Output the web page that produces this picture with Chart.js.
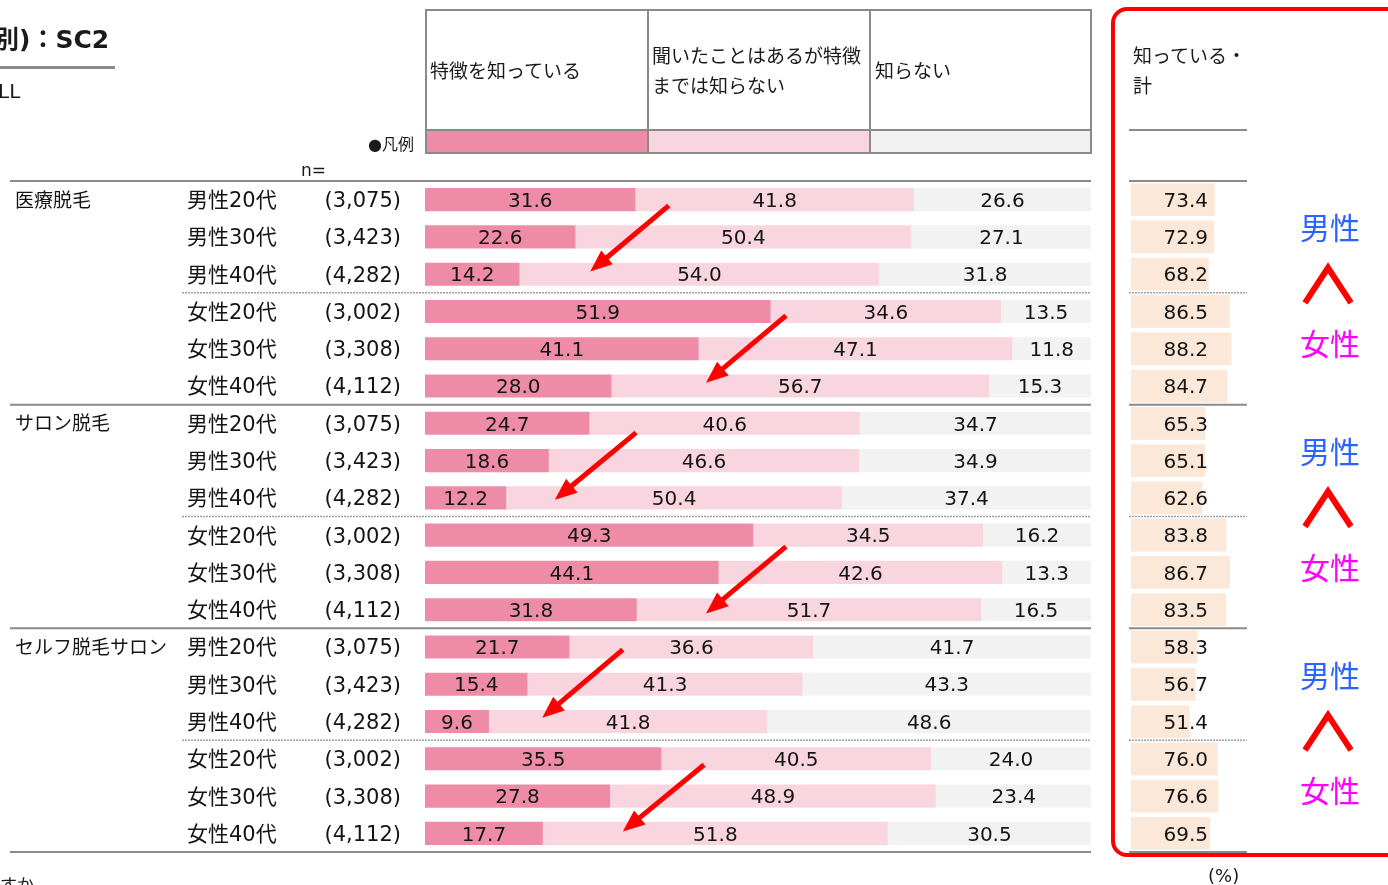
<!DOCTYPE html>
<html>
<head>
<meta charset="utf-8">
<script src="https://cdn.jsdelivr.net/npm/chart.js@4.4.0/dist/chart.umd.min.js"></script>
<style>
  body { margin: 0; background: #fff; }
  #wrap { position: relative; width: 1388px; height: 885px; overflow: hidden;
          font-family: "DejaVu Sans", "Noto Sans CJK JP", sans-serif; color: #1a1a1a; }
  canvas { position: absolute; left: 0; top: 0; }
  .t { position: absolute; white-space: nowrap; }
  .ln { position: absolute; background: #8a8a8a; }
  .hd { position: absolute; font-size: 19px; line-height: 30px; }
</style>
</head>
<body>
<div id="wrap">
  <canvas id="mainChart" width="1388" height="885"></canvas>
  <canvas id="totalChart" width="1388" height="885"></canvas>

  <!-- title block -->
  <div class="t" style="left:-6px;top:19px;font-size:25px;font-weight:bold;">別)：SC2</div>
  <div class="ln" style="left:0;top:66px;width:115px;height:3px;"></div>
  <div class="t" style="left:-2px;top:79px;font-size:20px;">LL</div>

  <!-- legend table -->
  <div style="position:absolute;left:425px;top:9px;width:667px;height:145px;border:2px solid #8a8a8a;box-sizing:border-box;"></div>
  <div class="ln" style="left:647px;top:9px;width:2px;height:145px;"></div>
  <div class="ln" style="left:869px;top:9px;width:2px;height:145px;"></div>
  <div class="ln" style="left:425px;top:129px;width:667px;height:2px;"></div>
  <div id="sw0" style="position:absolute;left:427px;top:131px;width:220px;height:21px;"></div>
  <div id="sw1" style="position:absolute;left:649px;top:131px;width:220px;height:21px;"></div>
  <div id="sw2" style="position:absolute;left:871px;top:131px;width:219px;height:21px;"></div>
  <div class="hd" style="left:430px;top:56px;">特徴を知っている</div>
  <div class="hd" style="left:652px;top:41px;">聞いたことはあるが特徴<br>までは知らない</div>
  <div class="hd" style="left:875px;top:56px;">知らない</div>
  <div class="t" style="left:368px;top:131px;font-size:16px;">●凡例</div>
  <div class="t" style="left:301px;top:160px;font-size:17px;">n=</div>

  <!-- total column header -->
  <div class="hd" style="left:1133px;top:41px;">知っている・<br>計</div>
  <div class="ln" style="left:1129px;top:129px;width:118px;height:2px;"></div>

  <!-- highlight frame -->
  <div style="position:absolute;left:1111px;top:7px;width:320px;height:850px;border:4px solid #ff0000;border-radius:16px;box-sizing:border-box;"></div>

  <div class="t" style="left:1208px;top:865px;font-size:18px;">(%)</div>
  <div class="t" style="left:0px;top:871px;font-size:17px;">すか</div>
</div>

<script>
// categories
const groups = ['医療脱毛', 'サロン脱毛', 'セルフ脱毛サロン'];
const segments = ['男性20代', '男性30代', '男性40代', '女性20代', '女性30代', '女性40代'];
const sampleSizes = ['(3,075)', '(3,423)', '(4,282)', '(3,002)', '(3,308)', '(4,112)'];
const seriesNames = ['特徴を知っている', '聞いたことはあるが特徴までは知らない', '知らない'];

// series values (%), rows in order: group x segment
const knowFeatures = [31.6, 22.6, 14.2, 51.9, 41.1, 28.0,
                      24.7, 18.6, 12.2, 49.3, 44.1, 31.8,
                      21.7, 15.4, 9.6, 35.5, 27.8, 17.7];
const heardOnly = [41.8, 50.4, 54.0, 34.6, 47.1, 56.7,
                   40.6, 46.6, 50.4, 34.5, 42.6, 51.7,
                   36.6, 41.3, 41.8, 40.5, 48.9, 51.8];
const dontKnow = [26.6, 27.1, 31.8, 13.5, 11.8, 15.3,
                  34.7, 34.9, 37.4, 16.2, 13.3, 16.5,
                  41.7, 43.3, 48.6, 24.0, 23.4, 30.5];
const knowTotal = [73.4, 72.9, 68.2, 86.5, 88.2, 84.7,
                   65.3, 65.1, 62.6, 83.8, 86.7, 83.5,
                   58.3, 56.7, 51.4, 76.0, 76.6, 69.5];

// trend arrows, in data units [value, row index]
const arrows = [
    { from: [36.6, 0.16], to: [24.8, 1.93] },
    { from: [54.2, 3.11], to: [42.2, 4.91] },
    { from: [31.7, 6.25], to: [19.5, 8.05] },
    { from: [54.2, 9.31], to: [42.2, 11.1] },
    { from: [29.7, 12.07], to: [17.6, 13.9] },
    { from: [41.9, 15.16], to: [29.7, 16.95] }
];

const colors = ['#ee8ca8', '#f9d6df', '#f2f2f2'];
const totalColor = '#fbe8d8';
const FONT = '"DejaVu Sans", "Noto Sans CJK JP", sans-serif';

colors.forEach((c, i) => document.getElementById('sw' + i).style.background = c);

const rowLabels = [];
groups.forEach(g => segments.forEach(s => rowLabels.push(g + ' ' + s)));

// row boundary lines, shared by both charts
function drawRowLines(ctx, yScale, x0, x1, groupX0, midX0) {
    const n = rowLabels.length;
    const edge = i => (yScale.getPixelForValue(i) + yScale.getPixelForValue(i + 1)) / 2;
    const half = (yScale.getPixelForValue(1) - yScale.getPixelForValue(0)) / 2;
    ctx.save();
    ctx.strokeStyle = '#8a8a8a';
    ctx.lineWidth = 2;
    let top = yScale.getPixelForValue(0) - half;
    let bot = yScale.getPixelForValue(n - 1) + half;
    [[top, groupX0], [bot, groupX0]].forEach(([y, xs]) => {
        ctx.beginPath(); ctx.moveTo(xs, y); ctx.lineTo(x1, y); ctx.stroke();
    });
    for (let i = 0; i < n - 1; i++) {
        const y = edge(i);
        if ((i + 1) % 6 === 0) {
            ctx.setLineDash([]);
            ctx.beginPath(); ctx.moveTo(groupX0, y); ctx.lineTo(x1, y); ctx.stroke();
        } else if ((i + 1) % 3 === 0) {
            ctx.save();
            ctx.strokeStyle = '#a0a0a0';
            ctx.lineWidth = 1.5;
            ctx.setLineDash([2, 1]);
            ctx.beginPath(); ctx.moveTo(midX0, y); ctx.lineTo(x1, y); ctx.stroke();
            ctx.restore();
        }
    }
    ctx.restore();
}

const mainDecor = {
    id: 'mainDecor',
    afterDatasetsDraw(chart) {
        const ctx = chart.ctx;
        const xs = chart.scales.x, ys = chart.scales.y;
        const area = chart.chartArea;

        // value labels in segments
        ctx.save();
        ctx.font = '20px ' + FONT;
        ctx.fillStyle = '#141414';
        ctx.textAlign = 'center';
        ctx.textBaseline = 'middle';
        chart.data.datasets.forEach((ds, di) => {
            chart.getDatasetMeta(di).data.forEach((bar, i) => {
                const cx = (bar.x + bar.base) / 2;
                ctx.fillText(ds.data[i].toFixed(1), cx, bar.y + 2);
            });
        });

        // row labels
        rowLabels.forEach((lab, i) => {
            const y = ys.getPixelForValue(i) + 2;
            ctx.textAlign = 'left';
            if (i % 6 === 0) {
                ctx.font = '19px ' + FONT;
                ctx.fillText(groups[i / 6], 15, y);
            }
            ctx.font = '21px ' + FONT;
            ctx.fillText(segments[i % 6], 187, y);
            ctx.textAlign = 'right';
            ctx.fillText(sampleSizes[i % 6], 401, y);
        });
        ctx.restore();

        drawRowLines(ctx, ys, 10, area.right, 10, 182);

        // arrows
        ctx.save();
        ctx.strokeStyle = '#ff0000';
        ctx.fillStyle = '#ff0000';
        arrows.forEach(a => {
            const x1 = xs.getPixelForValue(a.from[0]), y1 = ys.getPixelForValue(a.from[1]);
            const x2 = xs.getPixelForValue(a.to[0]), y2 = ys.getPixelForValue(a.to[1]);
            const ang = Math.atan2(y2 - y1, x2 - x1);
            const headLen = 22, headW = 9;
            const bx = x2 - headLen * Math.cos(ang), by = y2 - headLen * Math.sin(ang);
            ctx.lineWidth = 5;
            ctx.beginPath(); ctx.moveTo(x1, y1); ctx.lineTo(bx + 4 * Math.cos(ang), by + 4 * Math.sin(ang)); ctx.stroke();
            ctx.beginPath();
            ctx.moveTo(x2, y2);
            ctx.lineTo(bx + headW * Math.sin(ang), by - headW * Math.cos(ang));
            ctx.lineTo(bx - headW * Math.sin(ang), by + headW * Math.cos(ang));
            ctx.closePath();
            ctx.fill();
        });
        ctx.restore();
    }
};

const totalDecor = {
    id: 'totalDecor',
    afterDatasetsDraw(chart) {
        const ctx = chart.ctx;
        const ys = chart.scales.y;
        const area = chart.chartArea;
        ctx.save();
        ctx.font = '20px ' + FONT;
        ctx.fillStyle = '#141414';
        ctx.textAlign = 'right';
        ctx.textBaseline = 'middle';
        chart.getDatasetMeta(0).data.forEach((bar, i) => {
            ctx.fillText(knowTotal[i].toFixed(1), area.left + 77, bar.y + 2);
        });
        ctx.restore();

        drawRowLines(ctx, ys, 1129, 1247, 1129, 1129);

        // 男性 ∧ 女性 marks per group
        ctx.save();
        ctx.textAlign = 'center';
        ctx.textBaseline = 'middle';
        ctx.font = '30px "Noto Sans CJK JP", sans-serif';
        for (let g = 0; g < groups.length; g++) {
            const r = g * 6;
            const yM = ys.getPixelForValue(r + 1) - 9;
            const yF = ys.getPixelForValue(r + 4) - 5;
            const yC = (ys.getPixelForValue(r + 2) + ys.getPixelForValue(r + 3)) / 2 - 10;
            ctx.fillStyle = '#2b63ff';
            ctx.fillText('男性', 1330, yM);
            ctx.fillStyle = '#ff00ff';
            ctx.fillText('女性', 1330, yF);
            ctx.strokeStyle = '#ff0000';
            ctx.lineWidth = 6;
            ctx.lineJoin = 'miter';
            ctx.beginPath();
            ctx.moveTo(1305, yC + 20);
            ctx.lineTo(1328, yC - 15);
            ctx.lineTo(1351, yC + 20);
            ctx.stroke();
        }
        ctx.restore();
    }
};

const hiddenScales = (stacked) => ({
    x: { display: false, stacked: stacked, min: 0, max: 100 },
    y: { display: false, stacked: stacked }
});

new Chart(document.getElementById('mainChart'), {
    type: 'bar',
    data: {
        labels: rowLabels,
        datasets: [
            { label: seriesNames[0], data: knowFeatures, backgroundColor: colors[0] },
            { label: seriesNames[1], data: heardOnly, backgroundColor: colors[1] },
            { label: seriesNames[2], data: dontKnow, backgroundColor: colors[2] }
        ]
    },
    options: {
        indexAxis: 'y',
        responsive: false,
        animation: false,
        layout: { padding: { left: 425, right: 297, top: 181, bottom: 33 } },
        datasets: { bar: { categoryPercentage: 1, barPercentage: 0.62 } },
        plugins: { legend: { display: false }, tooltip: { enabled: false } },
        scales: hiddenScales(true)
    },
    plugins: [mainDecor]
});

new Chart(document.getElementById('totalChart'), {
    type: 'bar',
    data: {
        labels: rowLabels,
        datasets: [
            { label: '知っている・計', data: knowTotal, backgroundColor: totalColor }
        ]
    },
    options: {
        indexAxis: 'y',
        responsive: false,
        animation: false,
        layout: { padding: { left: 1131, right: 143, top: 181, bottom: 33 } },
        datasets: { bar: { categoryPercentage: 1, barPercentage: 0.88 } },
        plugins: { legend: { display: false }, tooltip: { enabled: false } },
        scales: hiddenScales(false)
    },
    plugins: [totalDecor]
});
</script>
</body>
</html>
